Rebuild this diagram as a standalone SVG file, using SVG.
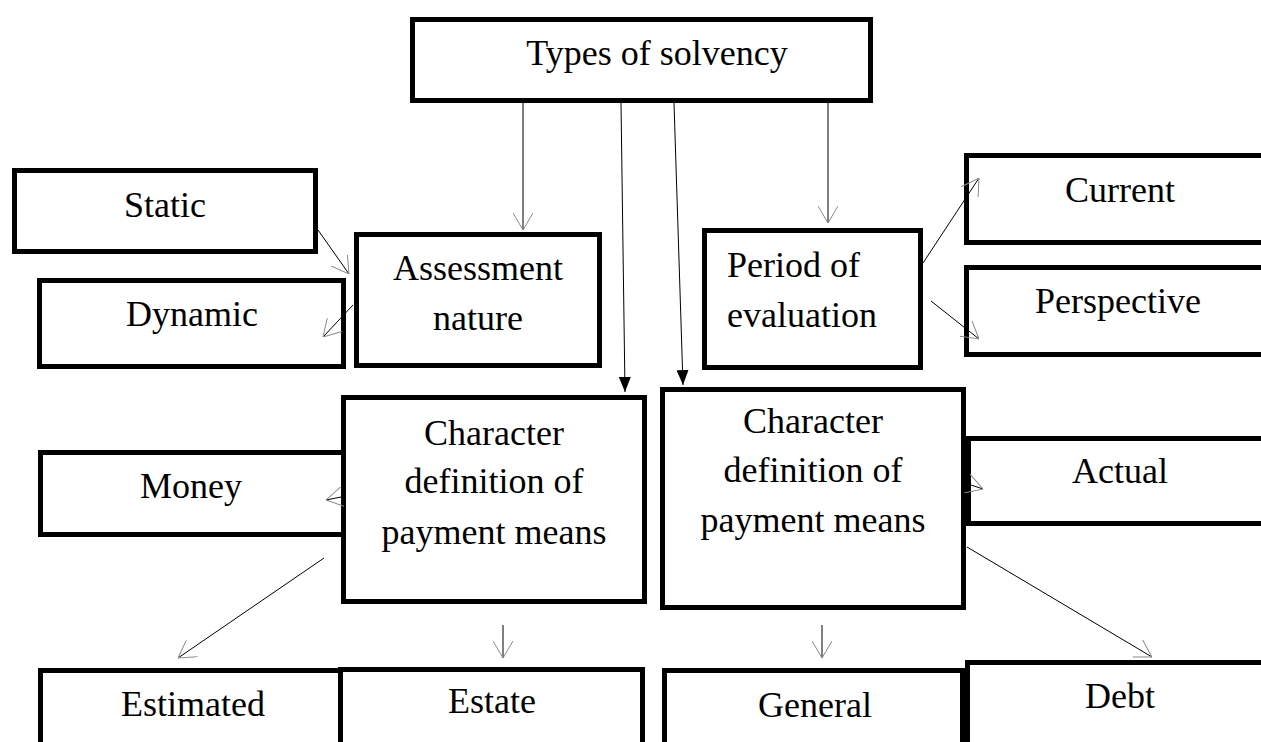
<svg xmlns="http://www.w3.org/2000/svg" width="1261" height="742" viewBox="0 0 1261 742">
<style>
.box{fill:#fff;stroke:#000;stroke-width:5}
.t{font-family:"Liberation Serif","Times New Roman",serif;font-size:36px;fill:#000;text-anchor:middle}
.ts{text-anchor:start}
.c{stroke:#000;stroke-width:1;fill:none}
.o{marker-end:url(#open)}
.f{marker-end:url(#fill)}
</style>
<defs>
<marker id="open" viewBox="0 0 17 20" refX="17" refY="10" markerWidth="17" markerHeight="20" markerUnits="userSpaceOnUse" orient="auto">
<path d="M0,0 L17,10 L0,20" fill="none" stroke="#8a8a8a" stroke-width="1"/>
</marker>
<marker id="fill" viewBox="0 0 15 12" refX="15" refY="6" markerWidth="15" markerHeight="12" markerUnits="userSpaceOnUse" orient="auto">
<path d="M0,0 L15,6 L0,12 z" fill="#000"/>
</marker>
</defs>
<rect width="1261" height="742" fill="#fff"/>
<g id="types"><rect class="box" x="412.5" y="19.5" width="458" height="81"/><text class="t" x="657" y="65">Types of solvency</text></g>
<g id="static"><rect class="box" x="14.5" y="170.5" width="301" height="81"/><text class="t" x="165" y="217">Static</text></g>
<g id="dynamic"><rect class="box" x="39.5" y="280.5" width="304" height="86"/><text class="t" x="192" y="326">Dynamic</text></g>
<g id="assessment"><rect class="box" x="356.5" y="234.5" width="243" height="131"/><text class="t" x="478" y="280">Assessment</text><text class="t" x="478" y="330">nature</text></g>
<g id="period"><rect class="box" x="704.5" y="230.5" width="216" height="137"/><text class="t ts" x="727" y="277">Period of</text><text class="t ts" x="727" y="327">evaluation</text></g>
<g id="current"><rect class="box" x="966.5" y="155.5" width="310" height="87"/><text class="t" x="1120" y="202">Current</text></g>
<g id="perspective"><rect class="box" x="966.5" y="267.5" width="310" height="87"/><text class="t" x="1118" y="313">Perspective</text></g>
<g id="money"><rect class="box" x="40.5" y="452.5" width="303" height="82"/><text class="t" x="191" y="498">Money</text></g>
<g id="char-left"><rect class="box" x="343.5" y="397.5" width="301" height="204"/><text class="t" x="494" y="445">Character</text><text class="t" x="494" y="493">definition of</text><text class="t" x="494" y="544">payment means</text></g>
<g id="char-right"><rect class="box" x="662.5" y="389.5" width="301" height="218"/><text class="t" x="813" y="433">Character</text><text class="t" x="813" y="482">definition of</text><text class="t" x="813" y="532">payment means</text></g>
<g id="actual"><rect class="box" x="968.5" y="438.5" width="310" height="85"/><text class="t" x="1120" y="483">Actual</text></g>
<g id="estimated"><rect class="box" x="40.5" y="670.5" width="300" height="100"/><text class="t" x="193" y="716">Estimated</text></g>
<g id="estate"><rect class="box" x="340.5" y="669.5" width="302" height="100"/><text class="t" x="492" y="713">Estate</text></g>
<g id="general"><rect class="box" x="664.5" y="670.5" width="298" height="100"/><text class="t" x="815" y="717">General</text></g>
<g id="debt"><rect class="box" x="967.5" y="662.5" width="310" height="100"/><text class="t" x="1120" y="708">Debt</text></g>
<g id="connectors">
<line class="c o" x1="523" y1="103" x2="523" y2="230"/>
<line class="c f" x1="621" y1="103" x2="625" y2="392"/>
<line class="c f" x1="674" y1="103" x2="683" y2="385"/>
<line class="c o" x1="828" y1="98" x2="828" y2="223"/>
<line class="c o" x1="318" y1="230" x2="349" y2="274"/>
<line class="c o" x1="353" y1="305" x2="323" y2="337"/>
<line class="c o" x1="923" y1="263" x2="979" y2="178"/>
<line class="c o" x1="931" y1="301" x2="979" y2="339"/>
<line class="c o" x1="341" y1="497" x2="326" y2="500"/>
<line class="c o" x1="324" y1="558" x2="178" y2="658"/>
<line class="c o" x1="503" y1="625" x2="503" y2="658"/>
<line class="c o" x1="968" y1="484" x2="983" y2="489"/>
<line class="c o" x1="822" y1="625" x2="822" y2="658"/>
<line class="c o" x1="967" y1="547" x2="1152" y2="657"/>
</g>
</svg>
